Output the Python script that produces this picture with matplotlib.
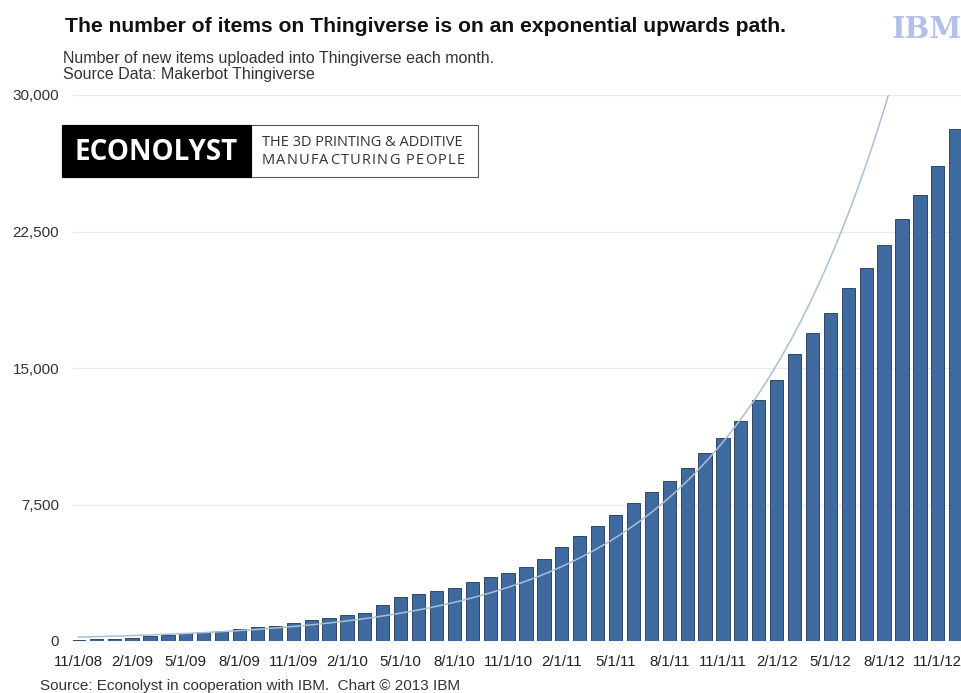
import numpy as np
import matplotlib
matplotlib.use("Agg")
from matplotlib import pyplot as plt
from matplotlib.patches import Rectangle
from matplotlib.lines import Line2D

# Monthly uploads, 11/1/08 .. 12/1/12
uploads = [50, 110, 130, 185, 275, 345, 440, 475, 565, 675, 765, 840, 965, 1130, 1280, 1405,
           1550, 1990, 2430, 2555, 2720, 2920, 3230, 3500, 3740, 4090, 4530, 5180, 5770, 6330, 6920, 7560,
           8210, 8780, 9490, 10340, 11160, 12100, 13230, 14340, 15790, 16930, 18020, 19400, 20470, 21750, 23170, 24530, 26110, 28140]
tick_labels = ["11/1/08", "2/1/09", "5/1/09", "8/1/09", "11/1/09", "2/1/10", "5/1/10", "8/1/10",
               "11/1/10", "2/1/11", "5/1/11", "8/1/11", "11/1/11", "2/1/12", "5/1/12", "8/1/12", "11/1/12"]
y_ticks = [0, 7500, 15000, 22500, 30000]
y_tick_labels = ["0", "7,500", "15,000", "22,500", "30,000"]

W, H = 962, 693
SANS = "Liberation Sans"
fig = plt.figure(figsize=(W / 100, H / 100), dpi=100)
ax = fig.add_axes([73 / W, 1 - 641 / H, 1 - 73 / W, (641 - 95) / H])

x = np.arange(len(uploads))
ax.bar(x, uploads, width=0.74, color="#3e6a9f", edgecolor="#1f3550", linewidth=0.6, zorder=2)

# exponential trend line (least squares on log values, like a spreadsheet trendline)
b, a = np.polyfit(x, np.log(uploads), 1)
xs = np.linspace(0, len(uploads) - 1, 300)
ax.plot(xs, np.exp(a + b * xs), color="#a9bfd3", linewidth=1.1, zorder=3)

ax.set_xlim(-0.3, 49.35)
ax.set_ylim(0, 30000)
ax.set_yticks(y_ticks)
ax.set_yticklabels(y_tick_labels, fontsize=11, color="#333333", family=SANS)
ax.set_xticks(x[::3])
ax.set_xticklabels(tick_labels, fontsize=10.8, color="#222222", family=SANS)
ax.tick_params(length=0)
ax.tick_params(axis="x", pad=10)
ax.tick_params(axis="y", pad=10)
ax.grid(axis="y", color="#e8e8e8", linewidth=0.9, zorder=0)
for s in ax.spines.values():
    s.set_visible(False)

# headings
fig.text(65 / W, 1 - 27 / H, "The number of items on Thingiverse is on an exponential upwards path.",
         fontsize=15.2, fontweight="bold", color="#111111", va="center", family=SANS)
fig.text(63 / W, 1 - 59 / H, "Number of new items uploaded into Thingiverse each month.",
         fontsize=11.5, color="#333333", va="center", family=SANS)
fig.text(63 / W, 1 - 75 / H, "Source Data: Makerbot Thingiverse",
         fontsize=11.5, color="#333333", va="center", family=SANS)
fig.text(40 / W, 1 - 686 / H, "Source: Econolyst in cooperation with IBM.  Chart \u00a9 2013 IBM",
         fontsize=11, color="#333333", va="center", family=SANS)

# Econolyst logo box
fig.add_artist(Rectangle((62 / W, 1 - 177 / H), (478 - 62) / W, 52 / H, transform=fig.transFigure,
                         facecolor="white", edgecolor="#555555", linewidth=0.8, zorder=5))
fig.add_artist(Rectangle((62 / W, 1 - 177 / H), (251 - 62) / W, 52 / H, transform=fig.transFigure,
                         facecolor="black", edgecolor="black", linewidth=0.8, zorder=6))
fig.text(156 / W, 1 - 152 / H, "ECONOLYST", fontsize=20, fontweight="bold", color="white",
         ha="center", va="center", zorder=7, family="Open Sans")
fig.text(262 / W, 1 - 143 / H, "THE 3D PRINTING & ADDITIVE", fontsize=10.5, color="#333333",
         va="center", zorder=7, family="Open Sans")

# second logo line is letter-spaced: place it character by character
renderer = fig.canvas.get_renderer()
cx = 262.0
for ch in "MANUFACTURING PEOPLE":
    t = fig.text(cx / W, 1 - 161 / H, ch, fontsize=10.5, color="#333333",
                 va="center", zorder=7, family="Open Sans")
    w = t.get_window_extent(renderer).width if ch != " " else 4.0
    cx += w + 1.2

# IBM logo top right
fig.text(927 / W, 1 - 29 / H, "IBM", fontsize=21, fontweight="bold", color="#b3c0ea",
         ha="center", va="center", family="DejaVu Serif")
for yy in range(17, 42, 4):
    fig.add_artist(Line2D([886 / W, 962 / W], [1 - yy / H, 1 - yy / H], transform=fig.transFigure,
                          color="white", linewidth=1.3))

fig.savefig("out.png", dpi=100)
